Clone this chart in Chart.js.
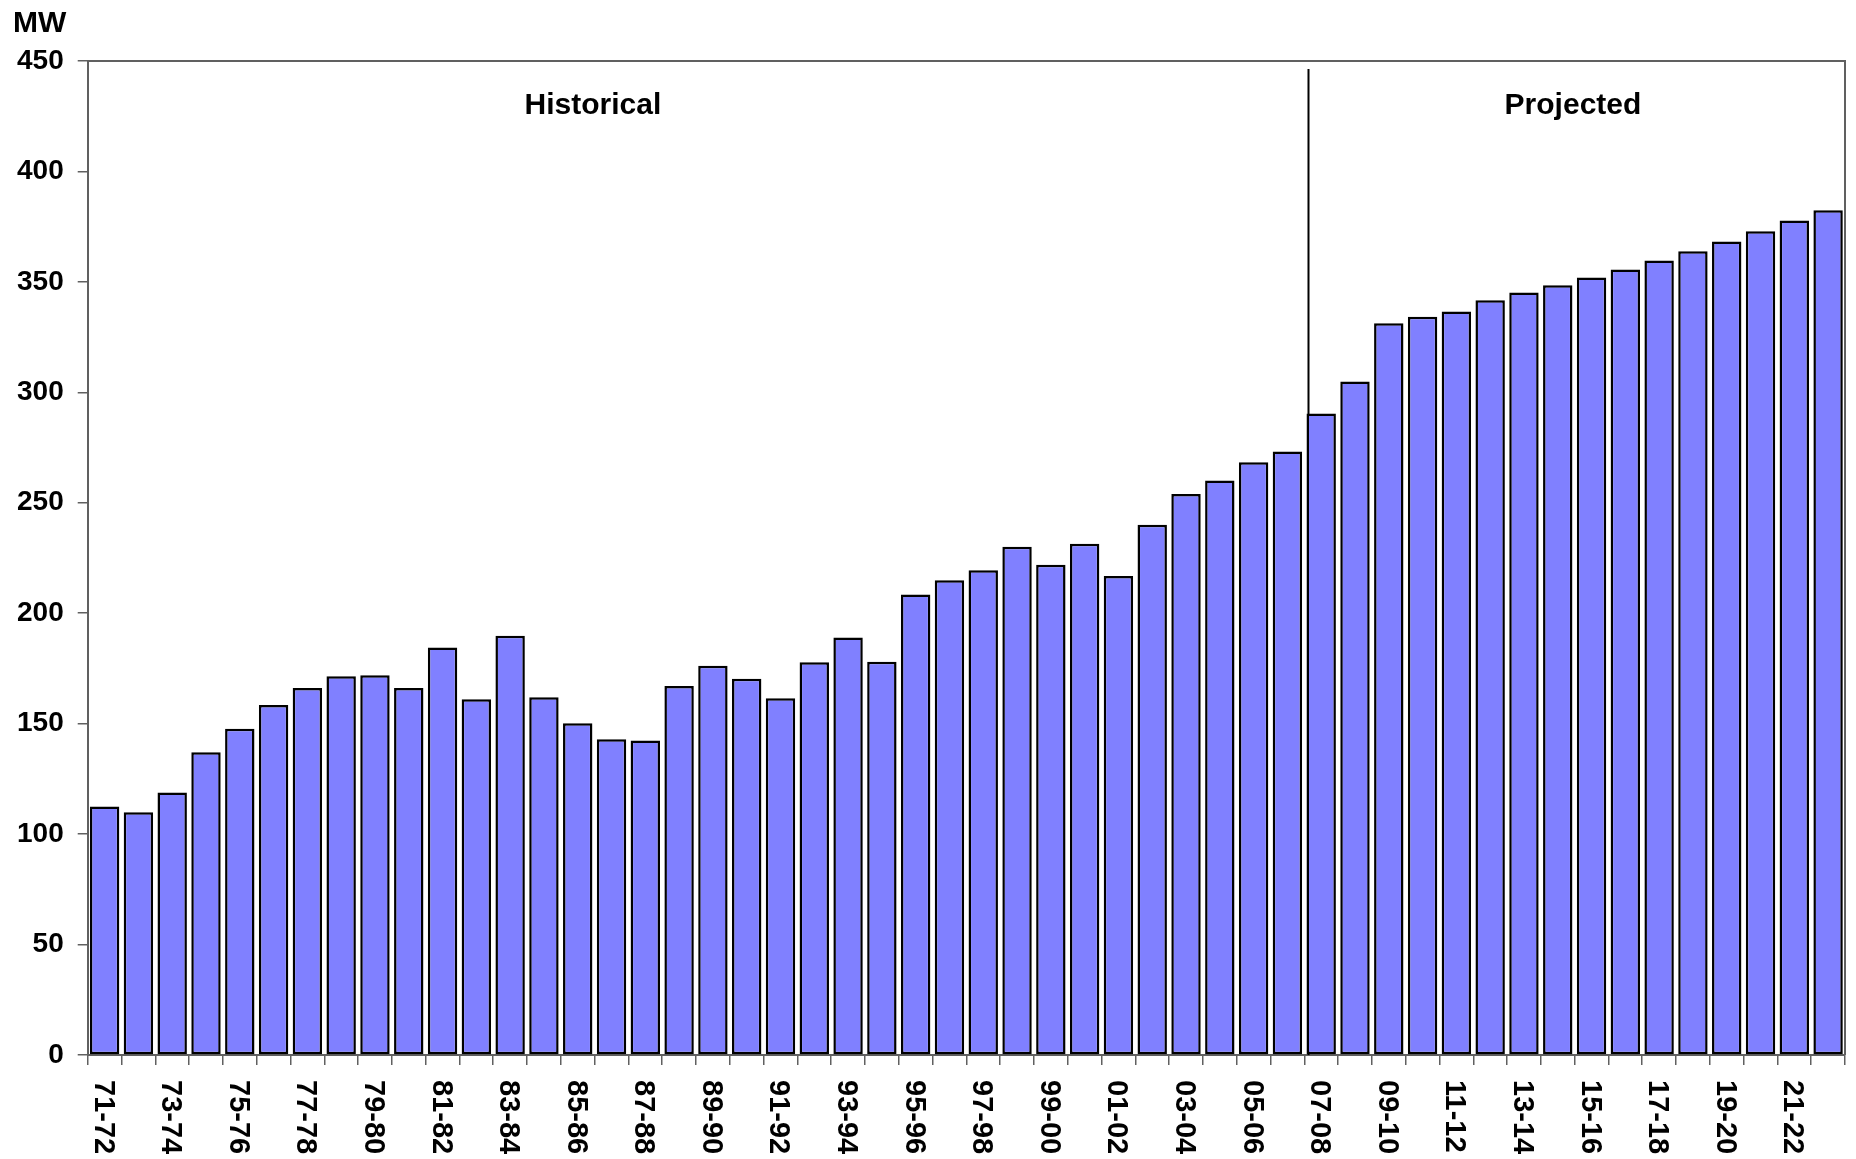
<!DOCTYPE html>
<html>
<head>
<meta charset="utf-8">
<title>Peak demand, MW</title>
<script src="https://cdn.jsdelivr.net/npm/chart.js@4.4.1/dist/chart.umd.min.js"></script>
<style>
  html, body { margin: 0; padding: 0; background: #fff; }
  #wrap { width: 1856px; height: 1159px; }
</style>
</head>
<body>
<div id="wrap"><canvas id="mwChart" width="1856" height="1159"></canvas></div>
<script>
// fiscal years, one bar each
const seasons = [
  '71-72', '72-73', '73-74', '74-75', '75-76', '76-77', '77-78', '78-79', '79-80', '80-81',
  '81-82', '82-83', '83-84', '84-85', '85-86', '86-87', '87-88', '88-89', '89-90', '90-91',
  '91-92', '92-93', '93-94', '94-95', '95-96', '96-97', '97-98', '98-99', '99-00', '00-01',
  '01-02', '02-03', '03-04', '04-05', '05-06', '06-07', '07-08', '08-09', '09-10', '10-11',
  '11-12', '12-13', '13-14', '14-15', '15-16', '16-17', '17-18', '18-19', '19-20', '20-21',
  '21-22', '22-23'
];

// peak load, MW
const peakMW = [
  112.5, 109.9, 118.8, 137.1, 147.7, 158.4, 166.2, 171.5, 171.9, 166.1,
  184.5, 161.1, 189.8, 162.0, 150.2, 143.0, 142.4, 167.1, 176.2, 170.3,
  161.5, 177.8, 189.0, 178.0, 208.5, 214.9, 219.5, 230.1, 221.9, 231.4,
  216.8, 240.0, 254.0, 260.1, 268.4, 273.2, 290.4, 304.9, 331.3, 334.2,
  336.6, 341.7, 345.2, 348.5, 352.0, 355.6, 359.7, 363.9, 368.3, 372.9,
  377.8, 382.4
];

const yTicks = [0, 50, 100, 150, 200, 250, 300, 350, 400, 450];
const periodNames = ['Historical', 'Projected'];
const firstProjected = seasons.indexOf('07-08');

const FONT = '"Liberation Sans", Arial, Helvetica, sans-serif';
const AXIS_GREY = '#606060';

// frame, divider, rotated year labels and the two period captions
const decorations = {
  id: 'decorations',
  beforeDatasetsDraw(chart) {
    const { ctx, chartArea } = chart;
    const bar = chart.getDatasetMeta(0).data[firstProjected];
    const x = bar.x - bar.width / 2 + 2;
    ctx.save();
    ctx.strokeStyle = '#000';
    ctx.lineWidth = 2;
    ctx.beginPath();
    ctx.moveTo(x, chartArea.top + 8);
    ctx.lineTo(x, chartArea.bottom);
    ctx.stroke();
    ctx.restore();
  },
  afterDraw(chart) {
    const { ctx, chartArea, scales } = chart;
    const xs = scales.x;
    ctx.save();

    // top and right edges of the plot box
    ctx.strokeStyle = AXIS_GREY;
    ctx.lineWidth = 2;
    ctx.beginPath();
    ctx.moveTo(chartArea.left, chartArea.top);
    ctx.lineTo(chartArea.right, chartArea.top);
    ctx.lineTo(chartArea.right, chartArea.bottom);
    ctx.stroke();

    // unit
    ctx.fillStyle = '#000';
    ctx.font = 'bold 30px ' + FONT;
    ctx.textAlign = 'left';
    ctx.textBaseline = 'alphabetic';
    ctx.fillText('MW', 13, 32);

    // period captions
    ctx.textAlign = 'center';
    ctx.textBaseline = 'middle';
    ctx.fillText(periodNames[0], xs.getPixelForValue(14.45), 106);
    ctx.fillText(periodNames[1], xs.getPixelForValue(43.45), 106);

    // year labels, every other bar, reading downward
    ctx.font = 'bold 29px ' + FONT;
    ctx.textAlign = 'left';
    ctx.textBaseline = 'middle';
    seasons.forEach((s, i) => {
      if (i % 2) return;
      ctx.save();
      ctx.translate(xs.getPixelForValue(i) - 2, chartArea.bottom + 25);
      ctx.rotate(Math.PI / 2);
      ctx.fillText(s, 0, 0);
      ctx.restore();
    });
    ctx.restore();
  }
};

const ctx = document.getElementById('mwChart').getContext('2d');
new Chart(ctx, {
  type: 'bar',
  data: {
    labels: seasons,
    datasets: [{
      label: 'MW',
      data: peakMW,
      backgroundColor: '#8080ff',
      borderColor: '#000',
      borderWidth: 2.5,
      borderSkipped: false,
      barPercentage: 0.87,
      categoryPercentage: 1
    }]
  },
  options: {
    responsive: false,
    animation: false,
    layout: { padding: { left: 3, top: 61, right: 11, bottom: 94 } },
    plugins: { legend: { display: false }, tooltip: { enabled: false } },
    scales: {
      x: {
        grid: { drawOnChartArea: false, drawTicks: true, tickLength: 10, color: AXIS_GREY, lineWidth: 1.5 },
        border: { color: AXIS_GREY, width: 2 },
        ticks: { display: false, autoSkip: false }
      },
      y: {
        min: yTicks[0],
        max: yTicks[yTicks.length - 1],
        afterBuildTicks: (axis) => { axis.ticks = yTicks.map(v => ({ value: v })); },
        grid: { drawOnChartArea: false, drawTicks: true, tickLength: 10, color: AXIS_GREY, lineWidth: 1.5 },
        border: { color: AXIS_GREY, width: 2 },
        ticks: {
          color: '#000',
          padding: 14,
          font: { family: FONT, size: 28, weight: 'bold' }
        }
      }
    }
  },
  plugins: [decorations]
});
</script>
</body>
</html>
